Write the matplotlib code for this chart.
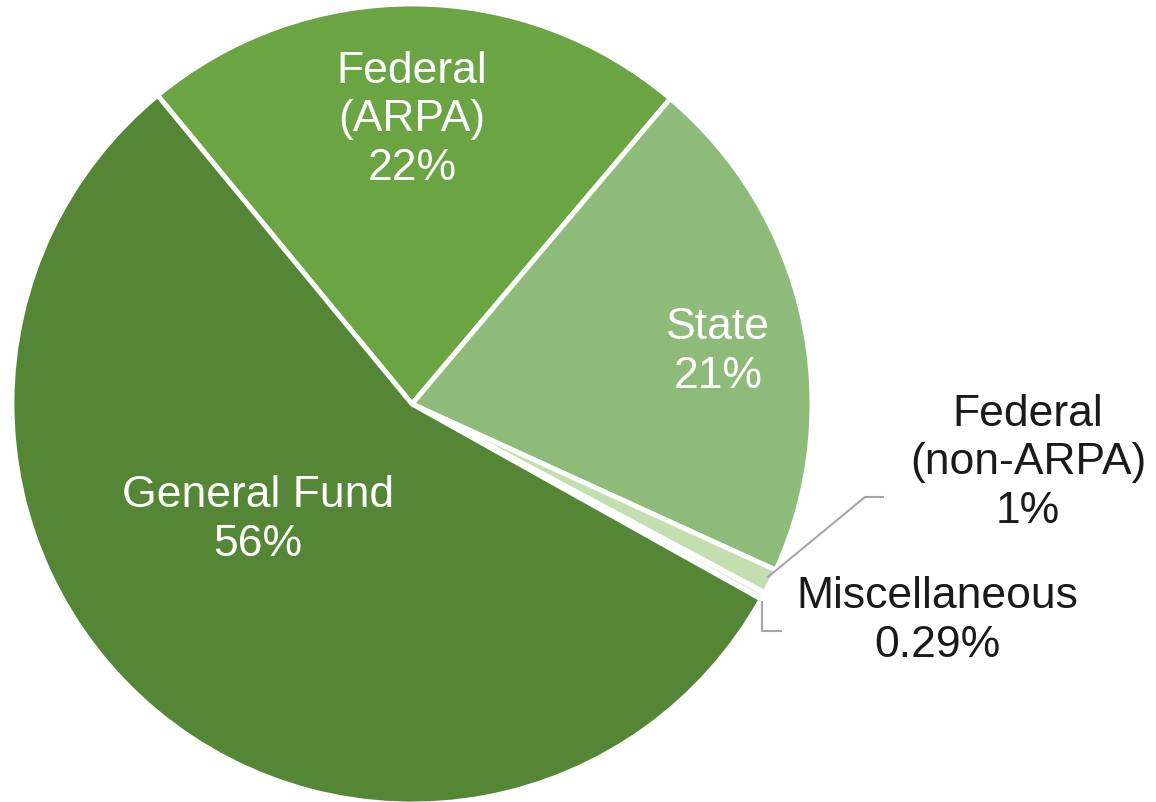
import matplotlib
matplotlib.use("Agg")
import matplotlib.pyplot as plt
import numpy as np

categories = ["Federal\n(ARPA)", "State", "Federal\n(non-ARPA)", "Miscellaneous", "General Fund"]
values = [22.1, 20.6, 1.0, 0.29, 55.8]
pct_labels = ["22%", "21%", "1%", "0.29%", "56%"]
colors = ["#6aa443", "#8fbb7a", "#c3dfb0", "#e6f1de", "#548636"]

plt.rcParams['font.family'] = ['Liberation Sans', 'DejaVu Sans']

W, H = 1156, 803
fig = plt.figure(figsize=(W / 100, H / 100), dpi=100)
cx, cy, r = 412, 398, 400
ax = fig.add_axes([(cx - r) / W, (cy - r) / H, 2 * r / W, 2 * r / H])

wedges, _ = ax.pie(values, colors=colors, startangle=129.5, counterclock=False,
                   radius=1.0, center=(0, 0),
                   wedgeprops=dict(edgecolor='white', linewidth=3.5))
ax.set_xlim(-1, 1)
ax.set_ylim(-1, 1)
ax.set_aspect('equal')
ax.axis('off')

fs = 32
ls = 1.24
def px(x, y):
    # convert figure pixel (from top-left) to data coords
    return ((x - cx) / r, ((H - y) - cy) / r)

# inside labels
x, y = px(412, 120)
ax.text(x, y, categories[0] + "\n" + pct_labels[0], ha='center', va='center',
        color='white', fontsize=fs, linespacing=ls)
x, y = px(718, 352)
ax.text(x, y, categories[1] + "\n" + pct_labels[1], ha='center', va='center',
        color='white', fontsize=fs, linespacing=ls)
x, y = px(258, 520)
ax.text(x, y, categories[4] + "\n" + pct_labels[4], ha='center', va='center',
        color='white', fontsize=fs, linespacing=ls)

# outside labels
x, y = px(1028, 463)
ax.text(x, y, categories[2] + "\n" + pct_labels[2], ha='center', va='center',
        color='#1a1a1a', fontsize=fs, linespacing=ls, clip_on=False)
x, y = px(937, 621)
ax.text(x, y, categories[3] + "\n" + pct_labels[3], ha='center', va='center',
        color='#1a1a1a', fontsize=fs, linespacing=ls, clip_on=False)

# leader lines
pts = [px(768, 578), px(865, 498), px(883, 498)]
ax.plot([p[0] for p in pts], [p[1] for p in pts], color='#a6a6a6', lw=1.5, clip_on=False)
pts = [px(762, 603), px(762, 632), px(781, 632)]
ax.plot([p[0] for p in pts], [p[1] for p in pts], color='#a6a6a6', lw=1.5, clip_on=False)

fig.savefig("out.png", dpi=100, facecolor='white')
